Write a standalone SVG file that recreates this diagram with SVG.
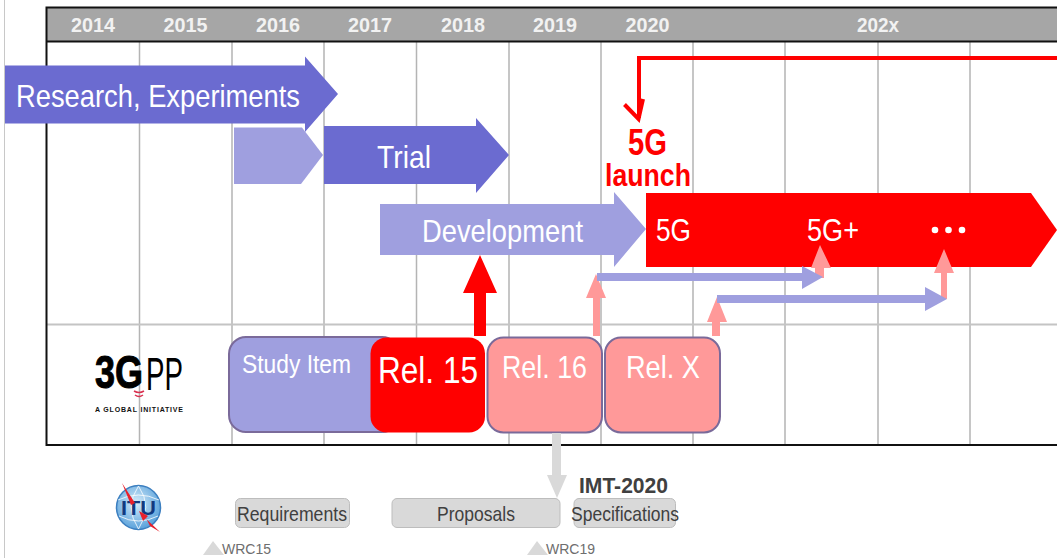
<svg xmlns="http://www.w3.org/2000/svg" width="1057" height="558" viewBox="0 0 1057 558">
<defs><style>
text{font-family:"Liberation Sans",Arial,sans-serif}
.grid{stroke:#b4b4b4;stroke-width:1.5;fill:none}
.yr{font-size:21px;font-weight:bold;fill:#f2f2f2;text-anchor:middle}
.wt{fill:#fff;text-anchor:middle}
.gr{fill:#d9d9d9;stroke:#bdbdbd;stroke-width:1}
.gt{font-size:21px;fill:#404040;text-anchor:middle}
.rel{stroke:#7a6a9a;stroke-width:2}
.pk{fill:#ff9999}.lv{fill:#9f9fdf}.dv{fill:#6b6bd0}
.wrc{font-size:14px;fill:#6e6e6e}
</style>
<radialGradient id="globe" cx="0.45" cy="0.4" r="0.65"><stop offset="0" stop-color="#d6ecfa"/><stop offset="1" stop-color="#4f9bd8"/></radialGradient>
</defs>
<rect width="1057" height="558" fill="#fff"/>
<path d="M4.500 0V558" stroke="#c8c8c8" stroke-width="1" fill="none"/>
<g id="grid">
<rect x="46.500" y="7.500" width="1011" height="34" fill="#a6a6a6"/>
<path d="M139.500 41V445M232 41V445M324 41V445M416.500 41V445M509 41V445M601 41V445M693 41V445M785 41V445M878 41V445M970 41V445" class="grid"/>
<path d="M46 324.500H1057" stroke="#c4c4c4" stroke-width="2"/>
<path d="M1057 7.500H46.500V445H1057M46.500 41.500H1057" fill="none" stroke="#111" stroke-width="2"/>
<g class="yr"><text x="93" y="32" textLength="44" lengthAdjust="spacingAndGlyphs">2014</text><text x="185.500" y="32" textLength="44" lengthAdjust="spacingAndGlyphs">2015</text><text x="278" y="32" textLength="44" lengthAdjust="spacingAndGlyphs">2016</text><text x="370" y="32" textLength="44" lengthAdjust="spacingAndGlyphs">2017</text><text x="463" y="32" textLength="44" lengthAdjust="spacingAndGlyphs">2018</text><text x="555" y="32" textLength="44" lengthAdjust="spacingAndGlyphs">2019</text><text x="647.500" y="32" textLength="44" lengthAdjust="spacingAndGlyphs">2020</text><text x="878" y="32" textLength="42" lengthAdjust="spacingAndGlyphs">202x</text></g>
</g>
<g id="research"><path d="M5 65.500H305V56.500L338 94L305 132V123.500H5Z" class="dv"/><text x="158" y="107" class="wt" font-size="32" textLength="284" lengthAdjust="spacingAndGlyphs">Research, Experiments</text></g>
<g id="pre-trial"><path d="M234 127.500H302L323 155L301 184H234Z" class="lv"/></g>
<g id="trial"><path d="M324 126H476V118L509 155L476 193V184H324Z" class="dv"/><text x="404" y="168" class="wt" font-size="32" textLength="54" lengthAdjust="spacingAndGlyphs">Trial</text></g>
<g id="development"><path d="M380 204H614V192L646 229L614 267V255H380Z" class="lv"/><text x="502.500" y="242" class="wt" font-size="32" textLength="161" lengthAdjust="spacingAndGlyphs">Development</text></g>
<g id="launch-5g"><path d="M646 193H1031L1057 230L1031 267H646Z" fill="#f00"/>
<text x="673.500" y="241" class="wt" font-size="31" textLength="35" lengthAdjust="spacingAndGlyphs">5G</text><text x="833" y="241" class="wt" font-size="31" textLength="52" lengthAdjust="spacingAndGlyphs">5G+</text>
<circle cx="935" cy="230" r="3.300" fill="#fff"/><circle cx="948.500" cy="230" r="3.300" fill="#fff"/><circle cx="962" cy="230" r="3.300" fill="#fff"/></g>
<g id="launch-label" fill="#f00" text-anchor="middle" font-weight="bold"><text x="647.500" y="155" font-size="36" textLength="39" lengthAdjust="spacingAndGlyphs">5G</text><text x="648" y="186" font-size="31" textLength="86" lengthAdjust="spacingAndGlyphs">launch</text></g>
<g id="study-item"><rect x="229" y="337" width="170" height="95" rx="17" class="lv rel"/><text x="296.500" y="373" class="wt" font-size="25" textLength="109" lengthAdjust="spacingAndGlyphs">Study Item</text></g>
<g id="rel15"><rect x="370.500" y="337.500" width="114.500" height="95" rx="16" fill="#f00"/><text x="428" y="383" class="wt" font-size="37" textLength="100" lengthAdjust="spacingAndGlyphs">Rel. 15</text></g>
<g id="rel16"><rect x="487.500" y="337.500" width="114.500" height="95" rx="16" class="pk rel"/><text x="544.500" y="378" class="wt" font-size="32" textLength="85" lengthAdjust="spacingAndGlyphs">Rel. 16</text></g>
<g id="relx"><rect x="605" y="337.500" width="115" height="95" rx="16" class="pk rel"/><text x="663" y="378" class="wt" font-size="32" textLength="74" lengthAdjust="spacingAndGlyphs">Rel. X</text></g>
<g id="connectors">
<path d="M1057 58H639V118" fill="none" stroke="#f00" stroke-width="4"/>
<path d="M624.500 104.500L638.500 119L643 99" fill="none" stroke="#f00" stroke-width="4"/>
<path d="M474 336V293H463L480 255L497 293H486V336Z" fill="#f00"/>
<path d="M593 336V298H586L596 274L606 298H600V336Z" class="pk"/>
<path d="M712 336V322H707L717 297L727 322H720V336Z" class="pk"/>
<path d="M815 278V268H811L820 245L831 268H824V278Z" class="pk"/>
<path d="M941 299V273H934L944 249L954 273H947V299Z" class="pk"/>
<path d="M597 273H802V266L823 277L802 289V281H597Z" class="lv"/>
<path d="M717 295H925V287L947 299L925 311V303H717Z" class="lv"/>
<path d="M552 433H561V475H567L557 498L547 475H552Z" fill="#d9d9d9"/>
</g>
<g id="logo-3gpp">
<text x="95" y="388" font-size="46" font-weight="bold" fill="#000" textLength="48" lengthAdjust="spacingAndGlyphs" stroke="#000" stroke-width="1">3G</text>
<text x="146" y="390" font-size="46" fill="#000" textLength="37" lengthAdjust="spacingAndGlyphs">PP</text>
<text x="139" y="412" font-size="7" font-weight="bold" fill="#111" text-anchor="middle" textLength="88">A GLOBAL INITIATIVE</text>
<path d="M134 391Q139 394 144 391M135 395Q139 398 143 395" fill="none" stroke="#d9304f" stroke-width="1.500"/></g>
<g id="logo-itu"><circle cx="138.500" cy="507.500" r="22" fill="url(#globe)" stroke="#3c7fc0" stroke-width="1.500"/>
<path d="M118 500Q138.500 490 159 500M119 516Q138.500 526 158 516M138.500 486Q124 507 138.500 529M138.500 486Q153 507 138.500 529" fill="none" stroke="#fff" stroke-width="0.800"/>
<text x="138.500" y="515" font-size="21" font-weight="bold" fill="#123a80" text-anchor="middle" textLength="35" lengthAdjust="spacingAndGlyphs">ITU</text>
<path d="M122 483L135 503L131 505ZM160 532L141 514L148 516L143 521L139 511L148 516L146 518L150 526Z" fill="#e8202c"/></g>
<g id="requirements"><rect x="235.500" y="498.500" width="114" height="29" rx="5" class="gr"/><text x="292" y="521" class="gt" textLength="110" lengthAdjust="spacingAndGlyphs">Requirements</text></g>
<g id="proposals"><rect x="392" y="498.500" width="168" height="29" rx="5" class="gr"/><text x="476" y="521" class="gt" textLength="78" lengthAdjust="spacingAndGlyphs">Proposals</text></g>
<g id="specifications"><rect x="574" y="498.500" width="101.500" height="29" rx="5" class="gr"/><text x="625" y="521" class="gt" textLength="108" lengthAdjust="spacingAndGlyphs">Specifications</text><text x="623.500" y="493" font-size="22" font-weight="bold" fill="#404040" text-anchor="middle" textLength="89" lengthAdjust="spacingAndGlyphs">IMT-2020</text></g>
<g id="wrc15"><path d="M203 555L213 541L224 555Z" fill="#d9d9d9"/><text x="222" y="554" class="wrc">WRC15</text></g>
<g id="wrc19"><path d="M527 555L537 541L548 555Z" fill="#d9d9d9"/><text x="546" y="554" class="wrc">WRC19</text></g>
</svg>
